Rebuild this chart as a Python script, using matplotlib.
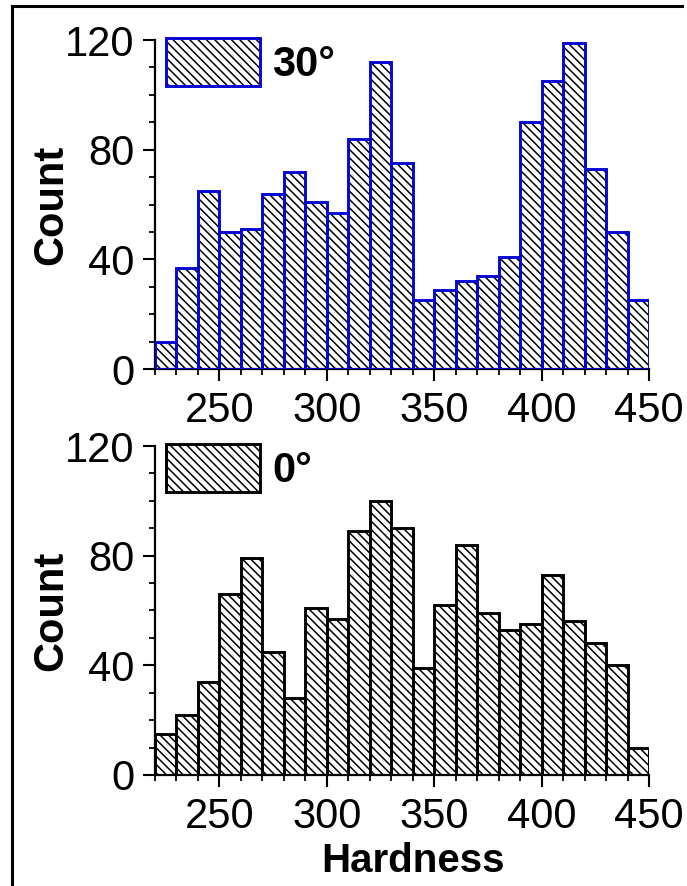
import matplotlib
matplotlib.use('Agg')
import matplotlib.pyplot as plt
import numpy as np
from matplotlib.patches import Patch
from matplotlib.lines import Line2D
from matplotlib.legend_handler import HandlerTuple
from matplotlib.ticker import MultipleLocator

plt.rcParams['font.family'] = ['Liberation Sans', 'DejaVu Sans']
plt.rcParams['hatch.linewidth'] = 1.1

# bin edges (hardness), 10 wide
bin_left = list(range(220, 450, 10))
count_30 = [10, 37, 65, 50, 51, 64, 72, 61, 57, 84, 112, 75,
            25, 29, 32, 34, 41, 90, 105, 119, 73, 50, 25]
count_0 = [15, 22, 34, 66, 79, 45, 28, 61, 57, 89, 100, 90,
           39, 62, 84, 59, 53, 55, 73, 56, 48, 40, 10]
labels = ['30°', '0°']
edge_colors = ['#0606d2', 'black']

fig = plt.figure(figsize=(6.87, 8.86), dpi=100)
ax_top = fig.add_axes([0.2256, 0.5835, 0.7191, 0.3713])
ax_bot = fig.add_axes([0.2256, 0.1253, 0.7191, 0.3713])

hatch = '\\\\\\\\'
for ax, counts, lab, ec in zip([ax_top, ax_bot], [count_30, count_0], labels, edge_colors):
    # hatch layer (black) then outline layer
    ax.bar(bin_left, counts, width=10, align='edge', color='white',
           edgecolor='black', hatch=hatch, linewidth=0, zorder=2)
    ax.bar(bin_left, counts, width=10, align='edge', fill=False,
           edgecolor=ec, linewidth=2.1, zorder=3)
    ax.set_xlim(220, 450)
    ax.set_ylim(0, 120)
    ax.xaxis.set_major_locator(MultipleLocator(50))
    ax.xaxis.set_minor_locator(MultipleLocator(10))
    ax.yaxis.set_major_locator(MultipleLocator(40))
    ax.yaxis.set_minor_locator(MultipleLocator(10))
    ax.spines['top'].set_visible(False)
    ax.spines['right'].set_visible(False)
    for s in ['left', 'bottom']:
        ax.spines[s].set_linewidth(1.6)
    ax.tick_params(which='major', direction='out', length=8.5, width=1.5,
                   labelsize=30)
    ax.tick_params(axis='x', which='major', pad=7)
    ax.tick_params(axis='y', which='major', pad=6)
    ax.tick_params(which='minor', direction='out', length=4.5, width=1.3)
    ax.set_ylabel('Count', fontsize=30, fontweight='bold', labelpad=-4)

    h1 = Patch(facecolor='white', edgecolor='black', hatch=hatch, linewidth=0)
    h2 = Patch(fill=False, edgecolor=ec, linewidth=2.1)
    ax.legend(handles=[(h1, h2)], labels=[lab], loc='upper left',
              handler_map={tuple: HandlerTuple(ndivide=1)},
              frameon=False, handlelength=2.25, handleheight=1.38,
              handletextpad=0.3, borderaxespad=0, borderpad=0,
              prop={'size': 30, 'weight': 'bold'},
              bbox_to_anchor=(0.022, 1.005))

ax_bot.set_xlabel('Hardness', fontsize=29, fontweight='bold', labelpad=4)
ax_bot.xaxis.label.set_x(0.522)

# outer frame (left and top edges visible)
fig.add_artist(Line2D([0.0175, 0.0175], [0.0, 0.9932], color='black', lw=2.2))
fig.add_artist(Line2D([0.0175, 0.993], [0.9932, 0.9932], color='black', lw=2.2))

fig.savefig('out.png', dpi=100)
